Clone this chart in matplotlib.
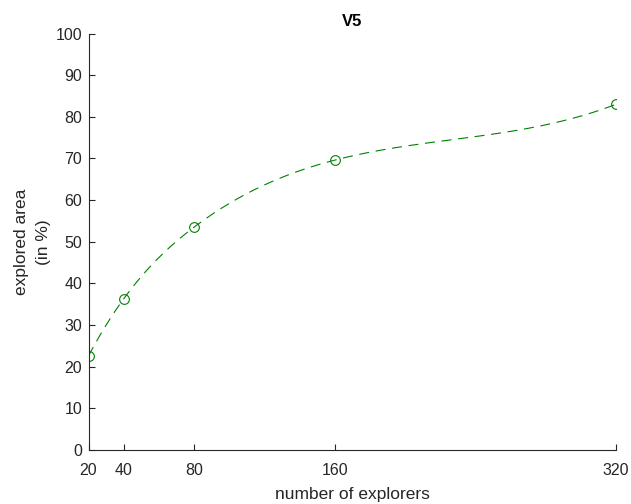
import numpy as np
import matplotlib
matplotlib.use("Agg")
import matplotlib.pyplot as plt

explorers = [20, 40, 80, 160, 320]
area = [22.6, 36.3, 53.5, 69.6, 83.0]
yticks = [0, 10, 20, 30, 40, 50, 60, 70, 80, 90, 100]


def notaknot_spline(x, y, xs):
    x = np.asarray(x, float); y = np.asarray(y, float)
    n = len(x) - 1
    A = np.zeros((4 * n, 4 * n)); b = np.zeros(4 * n)
    r = 0
    for i in range(n):
        h = x[i + 1] - x[i]
        A[r, 4 * i] = 1; b[r] = y[i]; r += 1
        A[r, 4 * i:4 * i + 4] = [1, h, h ** 2, h ** 3]; b[r] = y[i + 1]; r += 1
    for i in range(n - 1):
        h = x[i + 1] - x[i]
        A[r, 4 * i:4 * i + 4] = [0, 1, 2 * h, 3 * h ** 2]; A[r, 4 * (i + 1) + 1] = -1; r += 1
        A[r, 4 * i:4 * i + 4] = [0, 0, 2, 6 * h]; A[r, 4 * (i + 1) + 2] = -2; r += 1
    A[r, 3] = 1; A[r, 7] = -1; r += 1
    A[r, 4 * (n - 2) + 3] = 1; A[r, 4 * (n - 1) + 3] = -1; r += 1
    c = np.linalg.solve(A, b)
    out = np.empty_like(xs)
    for k, xv in enumerate(xs):
        i = min(max(np.searchsorted(x, xv) - 1, 0), n - 1)
        d = xv - x[i]
        out[k] = c[4 * i] + c[4 * i + 1] * d + c[4 * i + 2] * d ** 2 + c[4 * i + 3] * d ** 3
    return out


plt.rcParams['font.family'] = ['Liberation Sans', 'DejaVu Sans']
fig = plt.figure(figsize=(6.31, 5.04), dpi=100)
ax = fig.add_axes([0.1403, 0.1071, 0.9762 - 0.1403, 0.9335 - 0.1071])

green = '#008000'
xs = np.linspace(explorers[0], explorers[-1], 400)
ax.plot(xs, notaknot_spline(explorers, area, xs), color=green, lw=0.8,
        dashes=(9, 6))
ax.plot(explorers, area, 'o', mfc='none', mec=green, ms=7, mew=0.8)

ax.set_xlim(20, 320)
ax.set_ylim(0, 100)
ax.set_xticks(explorers)
ax.set_yticks(yticks)
for s in ['top', 'right']:
    ax.spines[s].set_visible(False)
for s in ['left', 'bottom']:
    ax.spines[s].set_color('#262626')
    ax.spines[s].set_linewidth(0.8)
ax.tick_params(direction='in', length=4, width=0.8, colors='#262626',
               labelsize=11.5, labelcolor='#262626')
ax.tick_params(axis='x', pad=9)
ax.tick_params(axis='y', pad=4.5)
ax.set_xlabel('number of explorers', fontsize=12.5, color='#262626', labelpad=6.5)
ax.set_ylabel('explored area\n(in %)', fontsize=12.5, color='#262626',
              labelpad=3, linespacing=1.6)
ax.set_title('V5', fontsize=12, fontweight='bold', pad=5.5)

fig.savefig('out.png', dpi=100)
